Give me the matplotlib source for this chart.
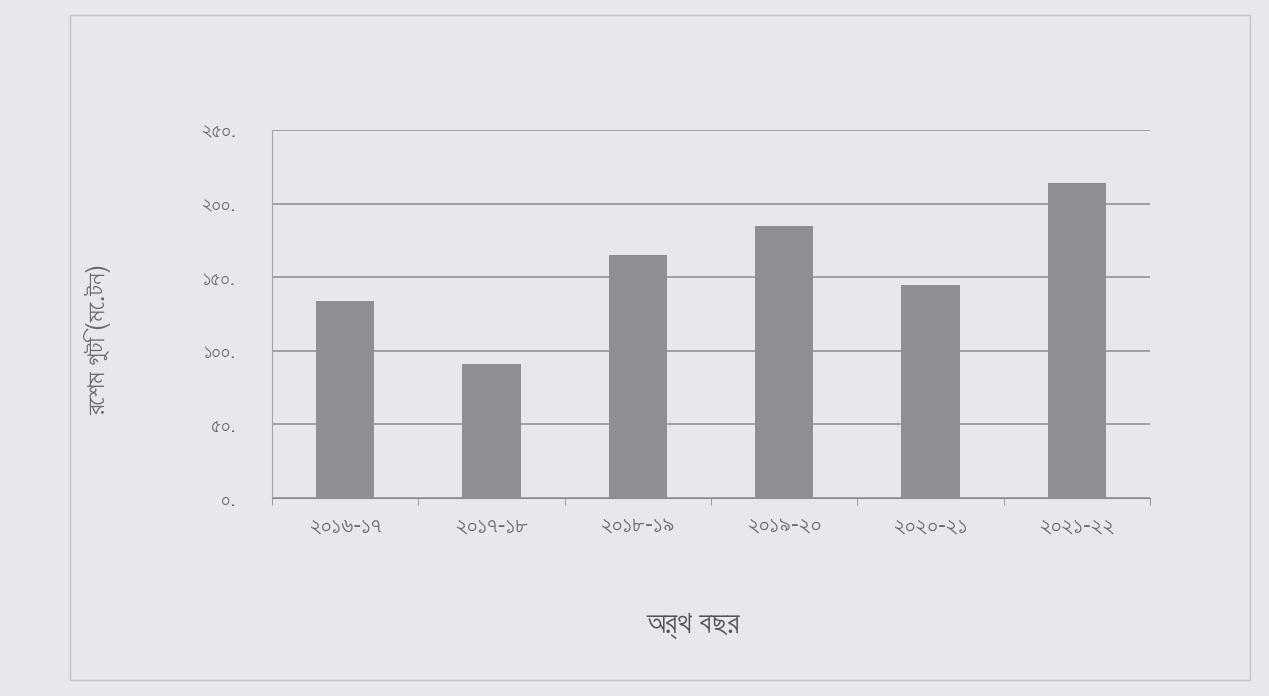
import matplotlib
matplotlib.use('Agg')
import matplotlib.pyplot as plt
from matplotlib import font_manager
from matplotlib.ft2font import FT2Font

# অর্থ বছর অনুযায়ী রেশম গুটি উৎপাদন
years = ['২০১৬-১৭', '২০১৭-১৮', '২০১৮-১৯', '২০১৯-২০', '২০২০-২১', '২০২১-২২']
production = [134, 91, 165, 185, 145, 214]
y_ticks = [0, 50, 100, 150, 200, 250]
y_tick_labels = ['০.', '৫০.', '১০০.', '১৫০.', '২০০.', '২৫০.']
x_title = 'অর্থ বছর'
y_title = 'রেশম গুটি (মে.টন)'


# বাংলা অক্ষর আছে এমন ফন্ট খোঁজা (মনো ফন্ট বাদে)
def find_bengali_font():
    found = []
    for path in sorted(font_manager.findSystemFonts()):
        try:
            cmap = FT2Font(path).get_charmap()
        except Exception:
            continue
        if ord('অ') in cmap and ord('২') in cmap:
            found.append(path)
    found.sort(key=lambda p: ('mono' in p.lower(), 'sans' not in p.lower(),
                              'bold' in p.lower()))
    if not found:
        return None
    return font_manager.FontProperties(fname=found[0]).get_name()


bn = find_bengali_font()
families = [bn, 'DejaVu Sans'] if bn else ['DejaVu Sans']
plt.rcParams['font.family'] = families

bg = '#e9e7eb'
bar_color = '#908e93'
grid_color = '#8c8b8f'
text_color = '#6b6a6e'

fig = plt.figure(figsize=(12.69, 6.96), dpi=100, facecolor=bg)
ax = fig.add_axes([272 / 1269, 1 - 498 / 696, (1150 - 272) / 1269, (498 - 130) / 696])
ax.set_facecolor(bg)

x = range(len(years))
ax.bar(x, production, width=0.4, color=bar_color, zorder=3)

ax.set_xlim(-0.5, len(years) - 0.5)
ax.set_ylim(0, 250)
ax.set_yticks(y_ticks)
ax.set_yticklabels(y_tick_labels, color=text_color, fontsize=15)
ax.set_xticks(list(x))
ax.set_xticklabels(years, color=text_color, fontsize=17)
ax.set_xticks([i + 0.5 for i in range(-1, len(years))], minor=True)
ax.tick_params(axis='x', which='major', length=0, pad=12)
ax.tick_params(axis='x', which='minor', length=5, color=grid_color, direction='out')
ax.tick_params(axis='y', length=0, pad=26)

ax.yaxis.grid(True, color=grid_color, linewidth=1.1, zorder=0)
for side in ['top', 'right']:
    ax.spines[side].set_visible(False)
ax.spines['left'].set_color('#a5a4a8')
ax.spines['bottom'].set_color(grid_color)

ax.set_xlabel(x_title, fontsize=22, color='#555458', va='center')
ax.xaxis.set_label_coords(0.48, -0.345)
ax.set_ylabel(y_title, fontsize=19, color=text_color, va='center')
ax.yaxis.set_label_coords(-0.198, 0.43)

# স্ক্যান করা পাতার ফ্রেম
fig.add_artist(plt.Rectangle((70 / 1269, 1 - 680 / 696), 1180 / 1269, 665 / 696,
                             transform=fig.transFigure, fill=False,
                             edgecolor='#c4c3c7', linewidth=1))

plt.savefig('out.png', dpi=100, facecolor=bg)
